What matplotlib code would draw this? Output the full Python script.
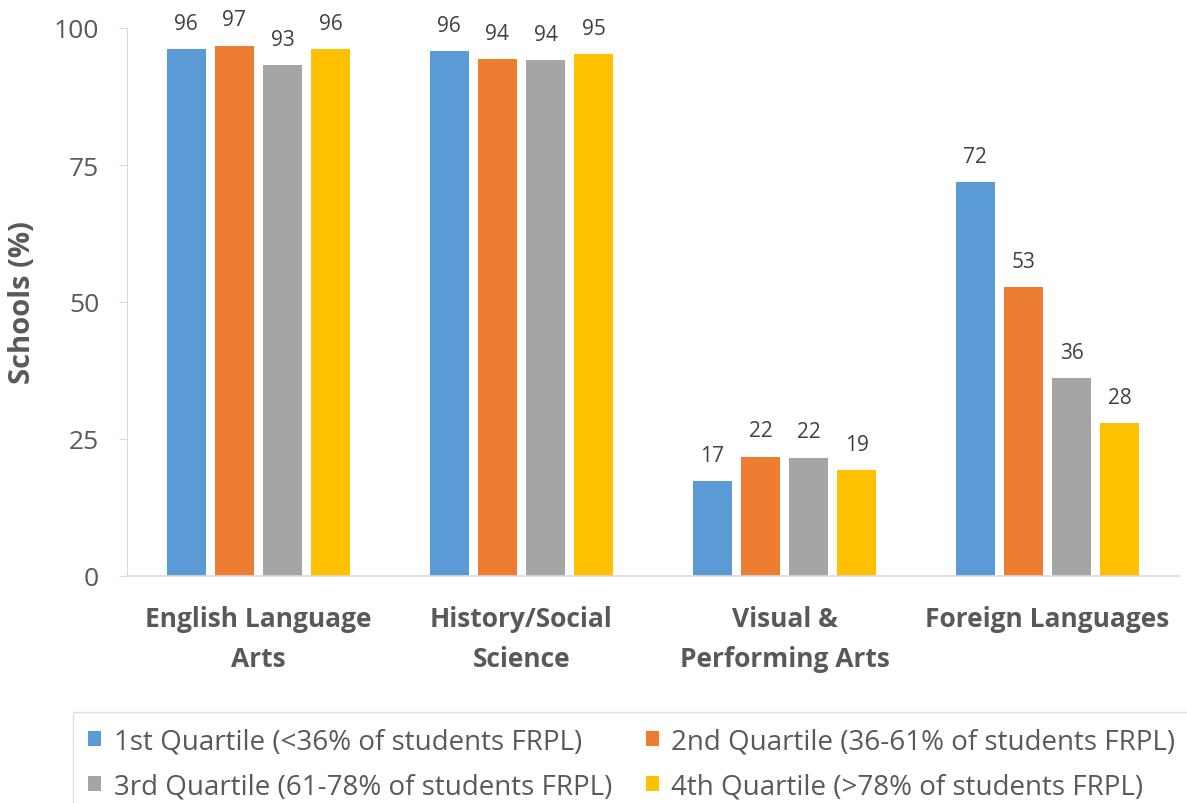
import numpy as np
import matplotlib
matplotlib.use("Agg")
import matplotlib.pyplot as plt

# data
categories = ["English Language\nArts", "History/Social\nScience",
              "Visual &\nPerforming Arts", "Foreign Languages"]
series_names = ["1st Quartile (<36% of students FRPL)",
                "2nd Quartile (36-61% of students FRPL)",
                "3rd Quartile (61-78% of students FRPL)",
                "4th Quartile (>78% of students FRPL)"]
q1 = [96.2, 95.8, 17.3, 71.9]
q2 = [96.8, 94.4, 21.8, 52.7]
q3 = [93.2, 94.2, 21.6, 36.1]
q4 = [96.1, 95.2, 19.3, 27.9]
colors = ["#5B9BD5", "#ED7D31", "#A5A5A5", "#FFC000"]

plt.rcParams["font.family"] = ["Open Sans", "DejaVu Sans"]

fig = plt.figure(figsize=(11.87, 8.04), dpi=100)
ax = fig.add_axes([127 / 1187, 1 - 577 / 804, 1052 / 1187, 548 / 804])

x = np.arange(len(categories))
step = 0.183
width = 0.147
bars = []
for i, vals in enumerate([q1, q2, q3, q4]):
    b = ax.bar(x + (i - 1.5) * step, vals, width, color=colors[i],
               label=series_names[i], zorder=2)
    bars.append(b)
    for rect, v in zip(b, vals):
        ax.annotate(f"{v:.0f}", (rect.get_x() + rect.get_width() / 2, v),
                    xytext=(0, 14.5), textcoords="offset points",
                    ha="center", va="baseline", fontsize=15, color="#404040")

ax.set_xlim(-0.5, 3.5)
ax.set_ylim(0, 100)
ax.set_yticks([0, 25, 50, 75, 100])
ax.tick_params(axis="y", length=6, color="#D9D9D9", labelsize=19,
               labelcolor="#595959", pad=14)
ax.set_xticks(x)
ax.set_xticklabels(categories, fontsize=19, fontweight="bold", color="#595959",
                   linespacing=1.6)
ax.tick_params(axis="x", length=0, pad=21)

for s in ["top", "right"]:
    ax.spines[s].set_visible(False)
ax.spines["left"].set_color("#D9D9D9")
ax.spines["bottom"].set_color("#D9D9D9")
ax.spines["bottom"].set_linewidth(1.2)

ax.set_ylabel("Schools (%)", fontsize=21, fontweight="bold", color="#595959",
              labelpad=12)

# legend rows: 1st, 2nd / 3rd, 4th
order = [0, 2, 1, 3]
handles = [bars[i] for i in order]
labels = [series_names[i] for i in order]
leg = fig.legend(handles, labels, ncol=2, loc="upper left",
                 bbox_to_anchor=(73 / 1187, 1 - 713 / 804),
                 fontsize=20, frameon=True, fancybox=False,
                 edgecolor="#D9D9D9", handlelength=0.47, handleheight=0.47,
                 handletextpad=0.45, columnspacing=1.2, labelspacing=0.62,
                 borderpad=0.55, borderaxespad=0)
leg.get_frame().set_linewidth(1.0)
for t in leg.get_texts():
    t.set_color("#595959")

fig.savefig("out.png", dpi=100)
